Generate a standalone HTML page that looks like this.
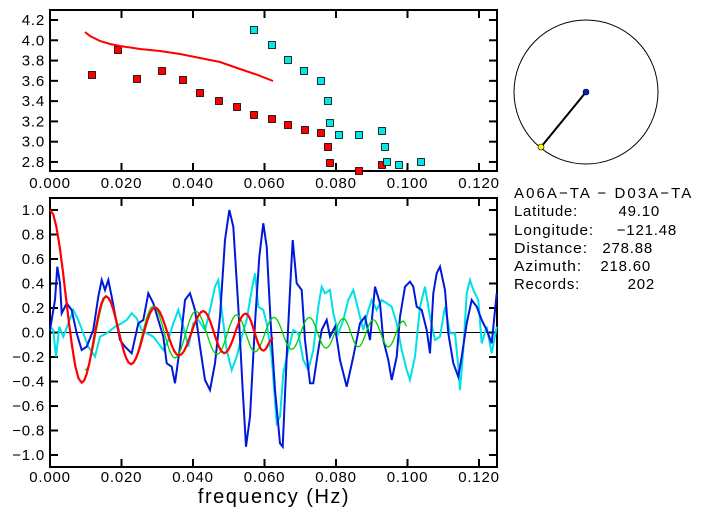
<!DOCTYPE html>
<html><head><meta charset="utf-8"><style>
body{margin:0;background:#fff}
svg text{font-family:"Liberation Sans",sans-serif;font-size:15px;fill:#000;letter-spacing:0.8px}
</style></head><body>
<svg id="s" width="703" height="519" xmlns="http://www.w3.org/2000/svg">
<rect width="703" height="519" fill="#fff"/>
<g id="g"></g>
<circle cx="586" cy="92" r="72" fill="none" stroke="#000" stroke-width="1"/>
<line x1="586" y1="92" x2="541" y2="147" stroke="#000" stroke-width="2"/>
<circle cx="586" cy="92" r="3" fill="#0020d0" stroke="#000" stroke-width="0.6"/>
<circle cx="541" cy="147" r="3" fill="#ffff00" stroke="#000" stroke-width="0.6"/>
<g style="font-size:15px">
<text x="514" y="198" textLength="178" lengthAdjust="spacing">A06A−TA  −  D03A−TA</text>
<text x="514" y="216" textLength="64" lengthAdjust="spacingAndGlyphs">Latitude:</text><text x="660" y="216" text-anchor="end">49.10</text>
<text x="514" y="235" textLength="80" lengthAdjust="spacingAndGlyphs">Longitude:</text><text x="677" y="235" text-anchor="end">−121.48</text>
<text x="514" y="253" textLength="74" lengthAdjust="spacingAndGlyphs">Distance:</text><text x="653" y="253" text-anchor="end">278.88</text>
<text x="514" y="271" textLength="68" lengthAdjust="spacingAndGlyphs">Azimuth:</text><text x="651" y="271" text-anchor="end">218.60</text>
<text x="514" y="289" textLength="66" lengthAdjust="spacingAndGlyphs">Records:</text><text x="655" y="289" text-anchor="end">202</text>
</g>
<text x="274" y="503" text-anchor="middle" style="font-size:20px;letter-spacing:1.5px">frequency  (Hz)</text>
</svg>
<script>
var g=document.getElementById('g'),h='';
function L(x1,y1,x2,y2,c,w){h+='<line x1="'+x1+'" y1="'+y1+'" x2="'+x2+'" y2="'+y2+'" stroke="'+c+'" stroke-width="'+w+'"/>';}
function T(x,y,t,a){h+='<text x="'+x+'" y="'+y+'" text-anchor="'+(a||'middle')+'">'+t+'</text>';}
function X(f){return 50+f*3575;}
var tT=10,tB=171,bT=198,bB=467,R=497;
h+='<rect x="50" y="'+tT+'" width="'+(R-50)+'" height="'+(tB-tT)+'" fill="none" stroke="#000" stroke-width="2"/>';
h+='<rect x="50" y="'+bT+'" width="'+(R-50)+'" height="'+(bB-bT)+'" fill="none" stroke="#000" stroke-width="2"/>';
for(var i=0;i<=6;i++){var x=X(i*0.02),lb=(i*0.02).toFixed(3);
 if(i>0){L(x,tT,x,tT+8,'#000',2);L(x,tB,x,tB-8,'#000',2);L(x,bT,x,bT+8,'#000',2);L(x,bB,x,bB-8,'#000',2);}
 T(x,188,lb);T(x,482,lb);}
function YT(v){return 20+(4.2-v)*101.4;}
for(var v=2.8;v<=4.21;v+=0.2){var y=YT(v);L(50,y,58,y,'#000',2);L(R,y,R-8,y,'#000',2);T(45,y+5,v.toFixed(1),'end');}
function YB(v){return 332.5-v*122.5;}
for(var k=-5;k<=5;k++){var v=k*0.2,y=YB(v);L(50,y,58,y,'#000',2);L(R,y,R-8,y,'#000',2);T(45,y+5,(v<0?'−':'')+Math.abs(v).toFixed(1),'end');}
L(50,332.5,R,332.5,'#000',1);
var rs=[[92,75],[118,50],[137,79],[162,71],[183,80],[200,93],[219,101],[237,107],[254,115],[272,119],[288,125],[305,130],[321,133],[328,147],[330,163],[359,171],[382,165]];
var cs=[[254,30],[272,45],[288,60],[304,71],[321,81],[328,101],[330,123],[339,135],[359,135],[382,131],[385,147],[387,162],[399,165],[421,162]];
function sq(p,c){h+='<rect x="'+(p[0]-3.5)+'" y="'+(p[1]-3.5)+'" width="7" height="7" fill="'+c+'" stroke="#000" stroke-width="0.8"/>';}
rs.forEach(function(p){sq(p,'#f00')});cs.forEach(function(p){sq(p,'#00e8e8')});
h+='<polyline points="85,32 90,36 100,41 110,44 120,46 140,49 160,51 180,54 200,58 220,62 240,69 255,74 273,81" fill="none" stroke="#f00" stroke-width="2"/>';
function Z(arr){return arr.map(function(p){return (p[0]/3).toFixed(1)+','+(190+p[1]/3).toFixed(1)}).join(' ');}
var blue=[[150,420],[165,330],[172,230],[180,280],[185,370],[200,340],[215,360],[230,430],[245,480],[260,470],[280,420],[295,320],[305,270],[315,300],[325,270],[335,320],[350,400],[360,450],[375,470],[395,490],[415,400],[430,390],[445,310],[460,340],[475,390],[490,440],[500,520],[515,530],[525,580],[540,470],[555,330],[570,310],[585,360],[600,470],[615,570],[630,600],[645,520],[660,380],[675,150],[688,60],[700,110],[715,350],[728,600],[738,770],[750,680],[765,400],[778,200],[790,100],[800,170],[812,400],[825,600],[840,760],[848,770],[860,500],[872,260],[878,150],[890,280],[905,300],[915,450],[930,580],[940,580],[955,480],[965,420],[980,390],[990,440],[1005,410],[1020,510],[1040,590],[1060,500],[1080,400],[1095,380],[1110,450],[1125,290],[1140,340],[1150,450],[1165,510],[1175,570],[1190,500],[1200,380],[1215,290],[1230,275],[1240,290],[1250,350],[1265,360],[1280,420],[1290,490],[1300,310],[1310,250],[1320,230],[1335,300],[1345,430],[1360,520],[1375,560],[1385,500],[1400,400],[1415,330],[1430,350],[1445,390],[1460,420],[1475,460],[1490,310]];
var cyan=[[150,410],[160,420],[168,500],[178,410],[190,440],[205,400],[220,360],[235,390],[250,430],[265,470],[285,500],[300,440],[320,430],[345,410],[365,400],[380,390],[395,370],[410,385],[425,420],[440,430],[460,440],[475,460],[490,480],[505,450],[520,400],[535,360],[550,410],[565,470],[580,400],[595,390],[615,420],[630,360],[645,290],[655,270],[665,360],[680,480],[695,540],[710,500],[725,440],[740,390],[755,300],[765,250],[775,350],[790,360],[800,400],[815,500],[830,700],[840,680],[850,550],[865,480],[880,420],[895,430],[910,510],[925,540],[940,480],[955,350],[965,290],[975,310],[990,300],[1000,370],[1015,430],[1030,390],[1045,330],[1060,300],[1075,360],[1090,420],[1105,360],[1115,330],[1130,360],[1145,330],[1160,340],[1175,350],[1190,400],[1205,480],[1220,540],[1230,570],[1245,500],[1260,350],[1275,290],[1290,380],[1305,450],[1320,440],[1335,350],[1350,430],[1365,430],[1375,530],[1380,600],[1390,480],[1400,310],[1410,270],[1420,300],[1435,330],[1445,460],[1460,410],[1475,490],[1490,410]];
h+='<polyline points="'+Z(cyan)+'" fill="none" stroke="#00e0e8" stroke-width="2"/>';
h+='<polyline points="'+Z(blue)+'" fill="none" stroke="#0018d8" stroke-width="2"/>';
function ext(arr){var out=[];for(var i=0;i<arr.length-1;i++){var a=arr[i],b=arr[i+1];for(var t=0;t<1;t+=0.1){var s=(1-Math.cos(Math.PI*t))/2;out.push([a[0]+(b[0]-a[0])*t,430-370*(a[1]+(b[1]-a[1])*s)]);}}var l=arr[arr.length-1];out.push([l[0],430-370*l[1]]);return out;}
var red=[[150,1.0],[245,-0.4],[318,0.3],[393,-0.25],[465,0.21],[537,-0.18],[610,0.18],[673,-0.16],[737,0.16],[790,-0.14],[820,-0.04]];
var green=[[255,-0.3],[320,0.3],[393,-0.25],[460,0.22],[525,-0.2],[587,0.18],[652,-0.17],[710,0.15],[765,-0.15],[822,0.13],[875,-0.13],[928,0.13],[978,-0.12],[1030,0.12],[1075,-0.11],[1120,0.11],[1165,-0.11],[1210,0.1],[1220,0.06]];
h+='<polyline points="'+Z(ext(green))+'" fill="none" stroke="#00d000" stroke-width="1.3"/>';
h+='<polyline points="'+Z(ext(red))+'" fill="none" stroke="#f00" stroke-width="2.2"/>';
g.innerHTML=h;
</script>
</body></html>
